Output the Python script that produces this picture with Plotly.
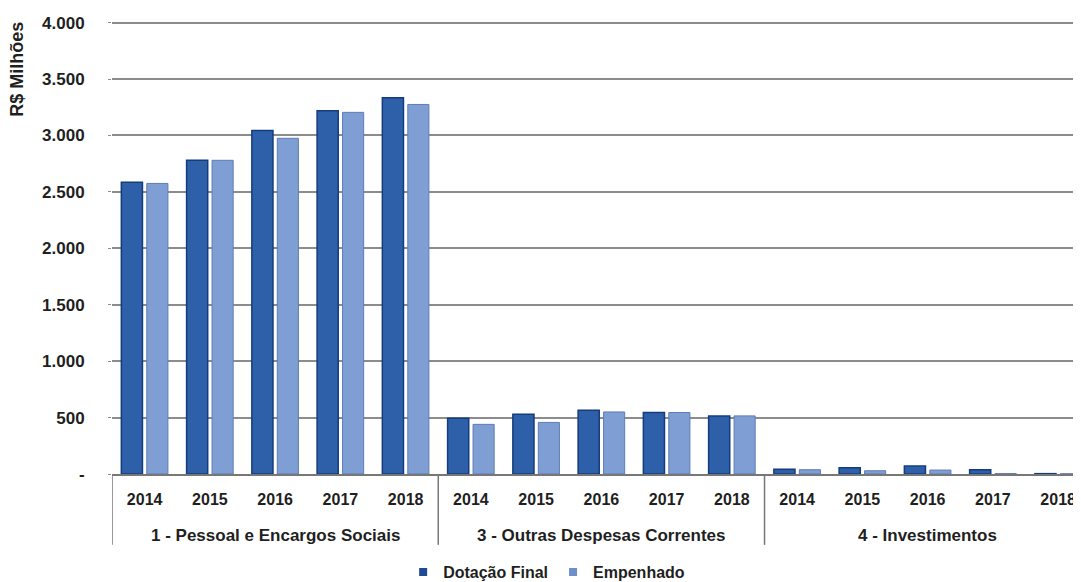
import plotly.graph_objects as go

groups = ["1 - Pessoal e Encargos Sociais", "3 - Outras Despesas Correntes", "4 - Investimentos"]
years = ["2014", "2015", "2016", "2017", "2018"]
dotacao_final = [2585, 2780, 3045, 3220, 3335,
                 495, 530, 565, 545, 515,
                 42, 55, 70, 38, 3]
empenhado = [2575, 2780, 2975, 3205, 3275,
             440, 457, 550, 545, 515,
             38, 29, 35, 4, 2]
y_tickvals = [0, 500, 1000, 1500, 2000, 2500, 3000, 3500, 4000]
y_ticktext = ["-", "500", "1.000", "1.500", "2.000", "2.500", "3.000", "3.500", "4.000"]

n_years = len(years)
x_pos = list(range(len(groups) * n_years))
x_ticktext = ["<b>%s</b>" % y for _ in groups for y in years]

FONT = "Liberation Sans, Arial, sans-serif"
TXT = "#1f1f1f"

fig = go.Figure()
fig.add_trace(go.Bar(name="Dotação Final", x=x_pos, y=dotacao_final, showlegend=False,
                     marker=dict(color="#2e60aa", line=dict(color="#143c7c", width=1.5))))
fig.add_trace(go.Bar(name="Empenhado", x=x_pos, y=empenhado, showlegend=False,
                     marker=dict(color="#7f9ed3", line=dict(color="#5d7db6", width=1))))
# legend entries with small square symbols
fig.add_trace(go.Scatter(name="<b>Dotação Final</b>", x=[None], y=[None], mode="markers",
                         marker=dict(symbol="square", size=8, color="#1f4a95")))
fig.add_trace(go.Scatter(name="<b>Empenhado</b>", x=[None], y=[None], mode="markers",
                         marker=dict(symbol="square", size=8, color="#6f8fcb")))

# the page body adds an 8px offset, so the figure is 8px smaller than the window
fig.update_layout(
    width=1073, height=574,
    margin=dict(l=104, r=0, t=9, b=108, autoexpand=False),
    paper_bgcolor="white", plot_bgcolor="white",
    barmode="group", bargap=0.22, bargroupgap=0.17,
    font=dict(family=FONT, size=16, color=TXT),
    legend=dict(orientation="h", xref="container", yref="container",
                x=0.502, xanchor="center", y=0.0174, yanchor="middle",
                font=dict(size=16, color=TXT), traceorder="normal", itemwidth=30),
)
fig.update_xaxes(range=[-0.5, 14.35], tickvals=x_pos, ticktext=x_ticktext,
                 showline=True, linecolor="#777", linewidth=1.5, ticks="",
                 ticklabelstandoff=10,
                 showgrid=False, zeroline=False, automargin=False,
                 tickfont=dict(size=16, color=TXT, family=FONT))
fig.update_yaxes(range=[0, 4050], tickvals=y_tickvals,
                 ticktext=["<b>%s</b>" % t for t in y_ticktext],
                 showgrid=True, gridcolor="#8c8c8c", gridwidth=1.5, zeroline=False,
                 showline=False, ticks="outside", ticklen=3, tickcolor="#8c8c8c",
                 ticklabelstandoff=20, automargin=False,
                 tickfont=dict(size=17, color=TXT, family=FONT))

# group labels and dividers for the two-level category axis
for gi, g in enumerate(groups):
    center = gi * n_years + (n_years - 1) / 2
    fig.add_annotation(text="<b>%s</b>" % g, x=center, xref="x", y=-0.1335, yref="paper",
                       yanchor="middle", showarrow=False,
                       font=dict(size=17, color=TXT, family=FONT))
for gi in range(len(groups) + 1):
    fig.add_shape(type="line", xref="x", yref="paper",
                  x0=gi * n_years - 0.5, x1=gi * n_years - 0.5, y0=0, y1=-0.155,
                  line=dict(color="#777", width=1.5))

fig.add_annotation(text="<b>R$ Milhões</b>", textangle=-90, xref="paper", yref="paper",
                   x=-0.098, y=0.993, xanchor="center", yanchor="top", showarrow=False,
                   font=dict(size=18, color=TXT, family=FONT))

fig.write_html("out.html")
